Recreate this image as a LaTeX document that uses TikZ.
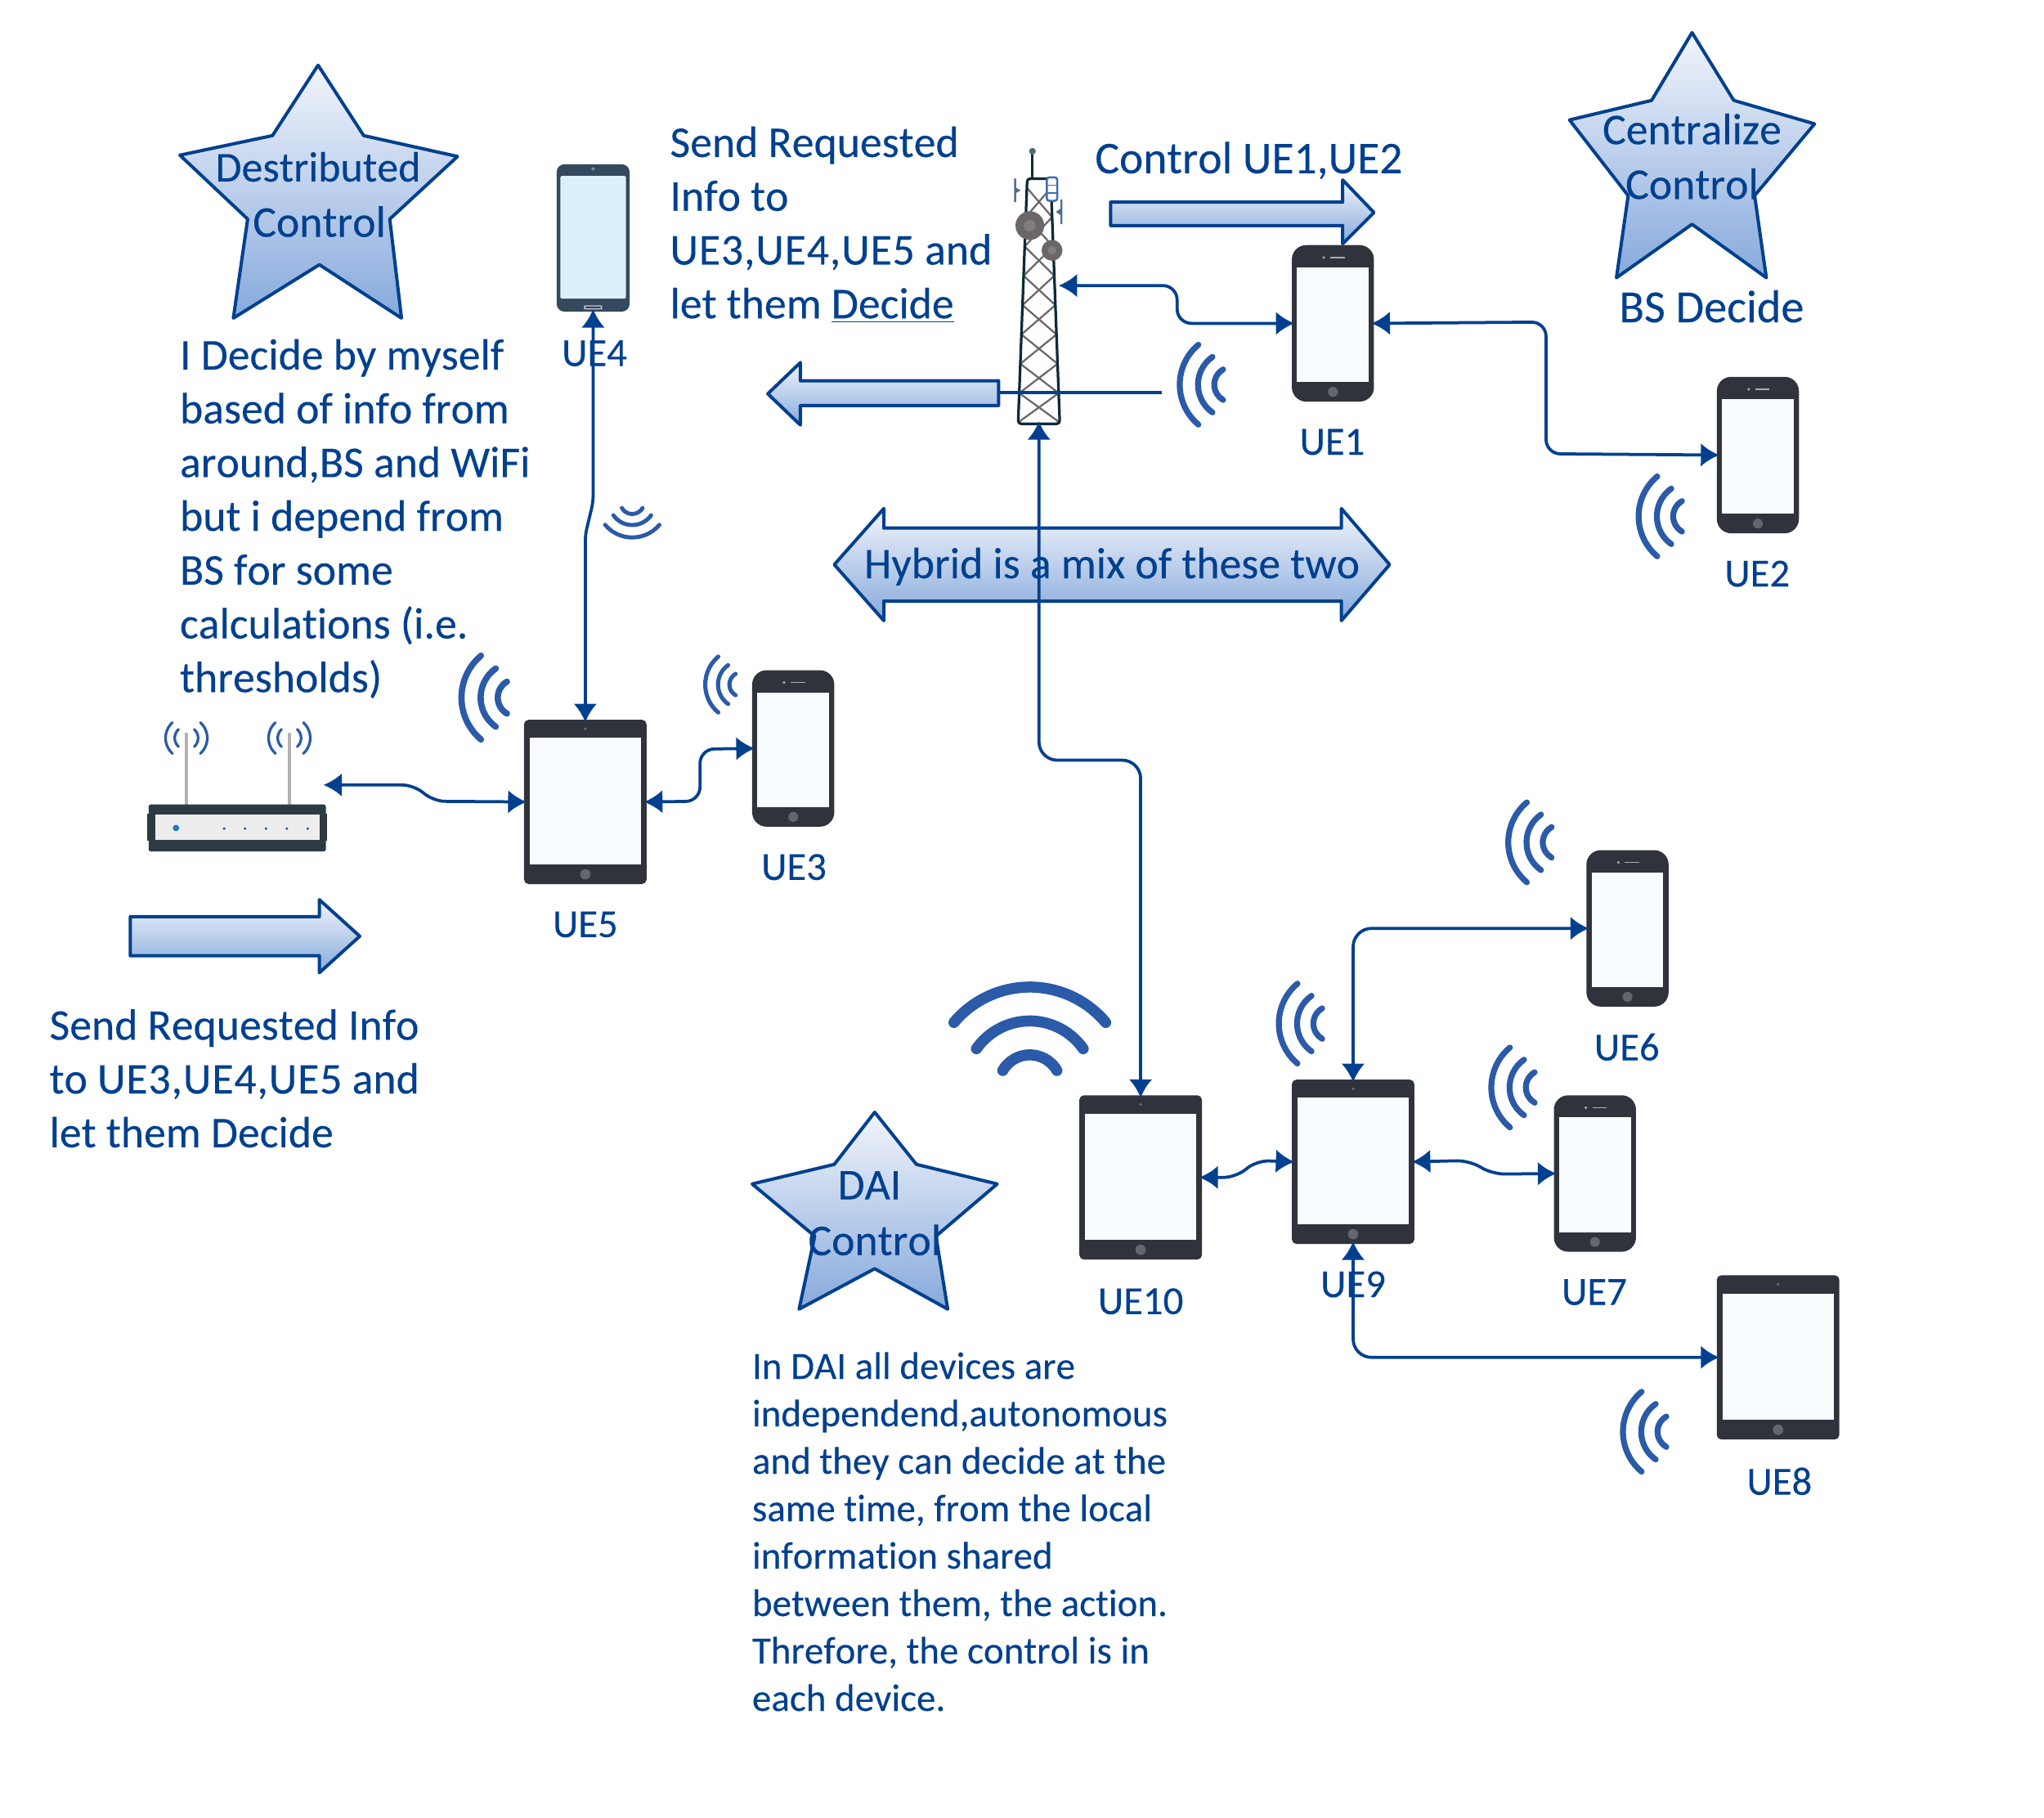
\documentclass[tikz,border=0pt]{standalone}
\usepackage{fontspec}
\setmainfont[Ligatures=NoCommon,Kerning=Off,FakeBold=0.15]{Carlito}
\usetikzlibrary{arrows.meta,calc}
\definecolor{ink}{HTML}{00408F}
\definecolor{wave}{HTML}{2B5AA8}
\definecolor{devbody}{HTML}{31333C}
\definecolor{devglass}{HTML}{F8FCFE}
\definecolor{androidbody}{HTML}{34495E}
\definecolor{androidglass}{HTML}{DCF0FA}
\definecolor{gradtop}{HTML}{F2F5FB}
\definecolor{gradbot}{HTML}{86A9DC}
\definecolor{towerdark}{HTML}{0E2A38}
\definecolor{towergrey}{HTML}{6B666A}
\def\U{0.63776pt}
\newcommand{\spaced}[1]{{\addfontfeature{LetterSpace=1.6}#1}}
\tikzset{
  every node/.style={outer sep=0pt},
  textblock/.style={text=ink,anchor=north west,align=left,inner sep=0pt},
  bigtext/.style={textblock,font=\fontsize{21.5}{26.3}\selectfont},
  smalltext/.style={textblock,font=\fontsize{18.8}{23.2}\selectfont},
  uelabel/.style={text=ink,inner sep=0pt,font=\fontsize{19.5}{22}\selectfont},
  startext/.style={text=ink,inner sep=0pt,font=\fontsize{21.5}{26}\selectfont},
  link/.style={draw=ink,line width=1.5pt,rounded corners=7pt,shorten <=-1.2pt,shorten >=-1.2pt,{Latex[length=9pt,width=11.5pt]}-{Latex[length=9pt,width=11.5pt]}},
  blockshape/.style={draw=ink,line width=1.6pt,line join=round,top color=gradtop,bottom color=gradbot},
  phone/.style={fill=devbody,rounded corners=11*\U,minimum width=63*\U,minimum height=120*\U,inner sep=0pt,
    path picture={
      \fill[devglass,sharp corners] ($(path picture bounding box.north west)+(4,17)$) rectangle ($(path picture bounding box.south east)+(-4,-15)$);
      \coordinate (mid) at (path picture bounding box.center);
      \fill[devbody!75!white] ($(mid)+(0,52.5)$) circle[radius=3.8*\U];
      \draw[white!60!devbody,line width=.6pt] ($(mid)+(-2,-50.5)$) -- ($(mid)+(9,-50.5)$);
      \fill[white!60!devbody] ($(mid)+(-7,-50.5)$) circle[radius=1.1*\U];
    }},
  tablet/.style={fill=devbody,rounded corners=3.5*\U,minimum width=94*\U,minimum height=126*\U,inner sep=0pt,
    path picture={
      \fill[devglass,sharp corners] ($(path picture bounding box.north west)+(4.5,14)$) rectangle ($(path picture bounding box.south east)+(-4.5,-15)$);
      \coordinate (mid) at (path picture bounding box.center);
      \fill[devbody!75!white] ($(mid)+(0,55.5)$) circle[radius=4*\U];
      \fill[devbody!70!white] ($(mid)+(0,-56)$) circle[radius=1.1*\U];
    }},
  android/.style={fill=androidbody,rounded corners=6*\U,minimum width=56*\U,minimum height=113*\U,inner sep=0pt,
    path picture={
      \fill[androidglass,rounded corners=.6pt] ($(path picture bounding box.north west)+(2.8,9)$) rectangle ($(path picture bounding box.south east)+(-2.8,-10)$);
      \coordinate (mid) at (path picture bounding box.center);
      \fill[androidbody!60!androidglass] ($(mid)+(0,-53)$) circle[radius=1.3*\U];
      \draw[white!70!androidbody,line width=.5pt,rounded corners=.8pt] ($(mid)+(-6.5,52)$) rectangle ($(mid)+(6.5,54.5)$);
    }},
  anchorbox/.style={inner sep=0pt,minimum width=#1*\U}
}
% three concentric arcs: centre, facing angle, scale
\newcommand{\signalarcs}[3]{%
  \begin{scope}[shift={(#1)}]
    \foreach \rad/\half in {40/50,26/55,13.5/60}{
      \pgfmathsetmacro{\rr}{\rad*0.63776*#3}
      \draw[wave,line width=#3*2.9pt,line cap=round]
        ([shift={(#2-\half:\rr pt)}]0,0) arc[start angle=#2-\half,end angle=#2+\half,radius=\rr pt];
    }
  \end{scope}}
% antenna halo of the router
\newcommand{\halo}[1]{%
  \begin{scope}[shift={(#1)}]
    \foreach \dir in {0,180}\foreach \rad in {16,9}{
      \pgfmathsetmacro{\rr}{\rad*0.63776}
      \draw[wave,line width=1.3pt,line cap=round]
        ([shift={(\dir-48:\rr pt)}]0,0) arc[start angle=\dir-48,end angle=\dir+48,radius=\rr pt];
    }
  \end{scope}}
\begin{document}
\begin{tikzpicture}[x=0.63776pt,y=-0.63776pt]
\useasboundingbox[fill=white] (0,0) rectangle (1568,1394);

% stars
\draw[blockshape] (244,50) -- (279,104) -- (351,120) -- (299,168) -- (308,244) -- (245,203) -- (179,244) -- (190,168) -- (138,119) -- (209,104) -- cycle;
\draw[blockshape] (1298,25) -- (1330,77) -- (1392,95) -- (1346,150) -- (1355,213) -- (1298,172) -- (1240,213) -- (1249,150) -- (1204,92) -- (1267,77) -- cycle;
\draw[blockshape] (671,853) -- (703,893) -- (765,908) -- (718,948) -- (727,1004) -- (671,973) -- (613,1004) -- (625,948) -- (577,908) -- (640,893) -- cycle;

% block arrows
\draw[blockshape] (852,155) -- (1030,155) -- (1030,138) -- (1054,163) -- (1030,187) -- (1030,173) -- (852,173) -- cycle;
\draw[blockshape] (589,302) -- (614,278) -- (614,292) -- (766,292) -- (766,311) -- (614,311) -- (614,326) -- cycle;
\draw[blockshape] (640,433) -- (678,390) -- (678,405) -- (1029,405) -- (1029,390) -- (1066,433) -- (1029,476) -- (1029,461) -- (678,461) -- (678,476) -- cycle;
\draw[blockshape] (100,703) -- (245,703) -- (245,690) -- (276,718) -- (245,746) -- (245,733) -- (100,733) -- cycle;

% base station
\node[anchorbox=32,minimum height=188*\U] (tower) at (797,231) {};
\coordinate (towerport) at (814,219);
\draw[towerdark,line width=1.1pt] (792,117) -- (792,137);
\fill[towerdark!70!white] (792,116) circle[radius=2.6*\U];
\foreach \k in {0,...,7}{
  \pgfmathsetmacro{\ya}{144+22.5*\k}
  \pgfmathsetmacro{\yb}{144+22.5*(\k+1)}
  \pgfmathsetmacro{\la}{788-(\ya-137)*7/188}
  \pgfmathsetmacro{\lb}{788-(\yb-137)*7/188}
  \pgfmathsetmacro{\ra}{806+(\ya-137)*7/188}
  \pgfmathsetmacro{\rb}{806+(\yb-137)*7/188}
  \draw[towergrey,line width=.9pt] (\la,\ya) -- (\rb,\yb) (\ra,\ya) -- (\lb,\yb);
}
\draw[towerdark,line width=1.3pt,rounded corners=1.5pt] (788,137) -- (806,137) -- (813,325) -- (781,325) -- cycle;
\fill[towerdark!60!ink!70!white] (778,137) -- (779.5,137) -- (779.5,144) -- (783,146) -- (779.5,148) -- (779.5,155) -- (778,155) -- cycle;
\fill[towerdark!60!ink!70!white] (815,153) -- (813.5,153) -- (813.5,160) -- (810,162.5) -- (813.5,165) -- (813.5,172) -- (815,172) -- cycle;
\fill[towergrey] (790,173) circle[radius=11*\U];
\fill[towergrey!85!white] (790,173) circle[radius=4.5*\U];
\fill[towergrey] (807,192) circle[radius=8*\U];
\fill[towergrey!85!white] (807,192) circle[radius=3.2*\U];
\draw[wave!90!white,fill=white,line width=1pt,rounded corners=1.2pt] (803,136) rectangle (811,154);
\draw[wave!90!white,line width=.7pt] (803,142) -- (811,142) (803,148) -- (811,148);

% router
\coordinate (routerport) at (250,602);
\draw[black!30,line width=1.4pt] (143,562) -- (143,617) (222,562) -- (222,617);
\fill[devbody] (113,624) rectangle (251,645);
\node[fill=devbody!90!teal,minimum width=136*\U,minimum height=36*\U,inner sep=0pt,rounded corners=1pt] (router) at (182,635) {};
\fill[black!7] (119,625) rectangle (245,644);
\fill[wave!80!cyan] (135,635) circle[radius=2.5*\U];
\foreach \dotx in {172,188,204,220,236}{\fill[wave] (\dotx,635.5) circle[radius=1.1*\U];}
\halo{143,566}
\halo{222,566}

% devices
\node[phone] (ue1) at (1022.5,248) {};
\node[phone] (ue2) at (1348.5,349) {};
\node[phone] (ue3) at (608.5,574) {};
\node[android] (ue4) at (455,182.5) {};
\node[tablet] (ue5) at (449,615) {};
\node[phone] (ue6) at (1248.5,712) {};
\node[phone] (ue7) at (1223.5,900) {};
\node[tablet] (ue8) at (1364,1041) {};
\node[tablet] (ue9) at (1038,891) {};
\node[tablet] (ue10) at (875,903) {};

% device names
\node[uelabel] (lab1) at (1022,339) {UE1};
\node[uelabel] (lab2) at (1348,440) {UE2};
\node[uelabel] (lab3) at (609,665) {UE3};
\node[uelabel] (lab4) at (456,271) {UE4};
\node[uelabel] (lab5) at (449,709) {UE5};
\node[uelabel] (lab6) at (1248,803) {UE6};
\node[uelabel] (lab7) at (1223,991) {UE7};
\node[uelabel] (lab8) at (1365,1136) {UE8};
\node[uelabel] (lab9) at (1038,985) {UE9};
\node[uelabel] (lab10) at (875,998) {UE10};

% radio waves
\signalarcs{945,295}{180}{1}
\signalarcs{1297,396}{180}{1}
\signalarcs{396,535}{180}{1.05}
\signalarcs{569,525}{180}{.7}
\signalarcs{1197,646}{180}{1}
\signalarcs{1021,785}{180}{1}
\signalarcs{1184,834}{180}{1}
\signalarcs{1285,1098}{180}{1}
\signalarcs{485,385}{270}{.68}
\begin{scope}[shift={(790,833)}]
  \foreach \rad/\half in {76/50,50/55,24/60}{
    \pgfmathsetmacro{\rr}{\rad*0.63776}
    \draw[wave,line width=5.4pt,line cap=round]
      ([shift={(90-\half:\rr pt)}]0,0) arc[start angle=90-\half,end angle=90+\half,radius=\rr pt];
  }
\end{scope}

% feed line crossing the mast
\coordinate (feedend) at (891,301);
\draw[ink,line width=1.5pt] (766,301) -- (feedend);

% links
\draw[link] (towerport) -- (903,219) -- (903,248) -- (ue1.west);
\draw[link] (ue1.east) -- (1186,247) -- (1186,348) -- (ue2.west);
\draw[link,rounded corners=3pt] (ue4.south) -- (455,385) -- (449,410) -- (ue5.north);
\draw[link,rounded corners=6pt] (routerport) -- (318,602) -- (332,614.5) -- (ue5.west);
\draw[link] (ue5.east) -- (537,614.5) -- (537,574.5) -- (ue3.west);
\draw[link,rounded corners=9pt] (tower.south) -- (797,583) -- (875,583) -- (ue10.north);
\draw[link,rounded corners=6pt] (ue10.east) -- (948,903) -- (964,890) -- (ue9.west);
\draw[link,rounded corners=6pt] (ue9.east) -- (1127,890) -- (1145,900.5) -- (ue7.west);
\draw[link,rounded corners=9pt] (ue9.north) -- (1038,712) -- (ue6.west);
\draw[link,rounded corners=9pt] (ue9.south) -- (1038,1041) -- (ue8.west);

% captions
\node[startext,font=\fontsize{20.8}{26}\selectfont] (s1a) at (244,128) {Destributed};
\node[startext] (s1b) at (245,170) {Control};
\node[startext] (s2a) at (1298,99) {Centralize};
\node[startext] (s2b) at (1298,141) {Control};
\node[startext] (s3a) at (667,909) {DAI};
\node[startext] (s3b) at (671,951) {Control};
\node[startext] (hybrid) at (853,434.5) {Hybrid is a mix of these two};
\node[startext,font=\fontsize{22.2}{26}\selectfont] (ctrl) at (958,123) {Control UE1,UE2};
\node[startext,font=\fontsize{22.5}{26}\selectfont] (bsd) at (1313,235) {BS Decide};
\node[bigtext] (sendtop) at (514,97) {Send Requested\\Info to\\\spaced{UE3,UE4,UE5} and\\let them \underline{Decide}};
\node[bigtext] (myself) at (138,260) {I Decide by myself\\based of info from\\around,BS and WiFi\\but i depend from\\BS for some\\calculations (i.e.\\thresholds)};
\node[bigtext] (sendleft) at (38,774) {Send Requested Info\\to \spaced{UE3,UE4,UE5} and\\let them Decide};
\node[smalltext] (dai) at (577,1037) {In DAI all devices are\\independend,autonomous\\and they can decide at the\\same time, from the local\\information shared\\between them, the action.\\Threfore, the control is in\\each device.};
\end{tikzpicture}
\end{document}
